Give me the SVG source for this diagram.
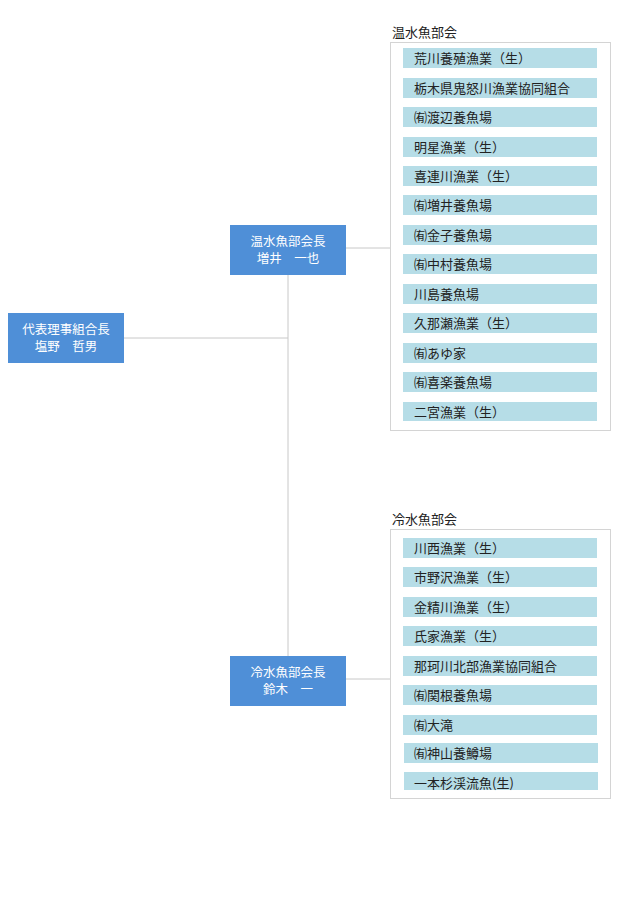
<svg xmlns="http://www.w3.org/2000/svg" width="620" height="900" viewBox="0 0 620 900">
<style>
text{font-family:"Noto Sans CJK JP","Noto Sans",sans-serif;font-size:13px}
.bt{font-size:12.5px}
.b{fill:#4f8fd7}.bt{fill:#fff;text-anchor:middle}
.it{fill:#b6dde7}.t{fill:#222}
.fr{fill:#fff;stroke:#d4d4d4}
.ln{stroke:#c8c8c8;fill:none}
</style>
<rect width="620" height="900" fill="#fff"/>
<g id="connectors" class="ln">
<path d="M124 338H288M288 275V656M346 248H390M346 679H390"/>
</g>
<g id="root"><rect class="b" x="8" y="313" width="116" height="50"/>
<text class="bt" x="66" y="334">代表理事組合長</text><text class="bt" x="66" y="351">塩野　哲男</text></g>
<g id="warm-head"><rect class="b" x="230" y="225" width="116" height="50"/>
<text class="bt" x="288" y="246">温水魚部会長</text><text class="bt" x="288" y="263">増井　一也</text></g>
<g id="cold-head"><rect class="b" x="230" y="656" width="116" height="50"/>
<text class="bt" x="288" y="677">冷水魚部会長</text><text class="bt" x="288" y="694">鈴木　一</text></g>
<g id="warm">
<text class="t" x="392" y="37">温水魚部会</text>
<rect class="fr" x="390.5" y="42.5" width="220" height="388"/>
<rect class="it" x="403" y="48" width="194" height="20"/><text class="t" x="414" y="63">荒川養殖漁業（生）</text>
<rect class="it" x="403" y="78" width="194" height="20"/><text class="t" x="414" y="93">栃木県鬼怒川漁業協同組合</text>
<rect class="it" x="403" y="107" width="194" height="20"/><text class="t" x="414" y="122">㈲渡辺養魚場</text>
<rect class="it" x="403" y="137" width="194" height="20"/><text class="t" x="414" y="152">明星漁業（生）</text>
<rect class="it" x="403" y="166" width="194" height="20"/><text class="t" x="414" y="181">喜連川漁業（生）</text>
<rect class="it" x="403" y="195" width="194" height="20"/><text class="t" x="414" y="210">㈲増井養魚場</text>
<rect class="it" x="403" y="225" width="194" height="20"/><text class="t" x="414" y="240">㈲金子養魚場</text>
<rect class="it" x="403" y="254" width="194" height="20"/><text class="t" x="414" y="269">㈲中村養魚場</text>
<rect class="it" x="403" y="284" width="194" height="20"/><text class="t" x="414" y="299">川島養魚場</text>
<rect class="it" x="403" y="313" width="194" height="20"/><text class="t" x="414" y="328">久那瀬漁業（生）</text>
<rect class="it" x="403" y="343" width="194" height="20"/><text class="t" x="414" y="358">㈲あゆ家</text>
<rect class="it" x="403" y="372" width="194" height="20"/><text class="t" x="414" y="387">㈲喜楽養魚場</text>
<rect class="it" x="403" y="402" width="194" height="19"/><text class="t" x="414" y="417">二宮漁業（生）</text>
</g>
<g id="cold">
<text class="t" x="392" y="524">冷水魚部会</text>
<rect class="fr" x="390.5" y="529.5" width="220" height="269"/>
<rect class="it" x="403" y="538" width="194" height="20"/><text class="t" x="414" y="553">川西漁業（生）</text>
<rect class="it" x="403" y="567" width="194" height="20"/><text class="t" x="414" y="582">市野沢漁業（生）</text>
<rect class="it" x="403" y="597" width="194" height="20"/><text class="t" x="414" y="612">金精川漁業（生）</text>
<rect class="it" x="403" y="626" width="194" height="20"/><text class="t" x="414" y="641">氏家漁業（生）</text>
<rect class="it" x="403" y="656" width="194" height="20"/><text class="t" x="414" y="671">那珂川北部漁業協同組合</text>
<rect class="it" x="403" y="685" width="194" height="20"/><text class="t" x="414" y="700">㈲関根養魚場</text>
<rect class="it" x="403" y="715" width="194" height="20"/><text class="t" x="414" y="730">㈲大滝</text>
<rect class="it" x="404" y="743" width="194" height="20"/><text class="t" x="414" y="758">㈲神山養鱒場</text>
<rect class="it" x="404" y="772" width="194" height="18"/><text class="t" x="414" y="788">一本杉渓流魚(生)</text>
</g>
</svg>
